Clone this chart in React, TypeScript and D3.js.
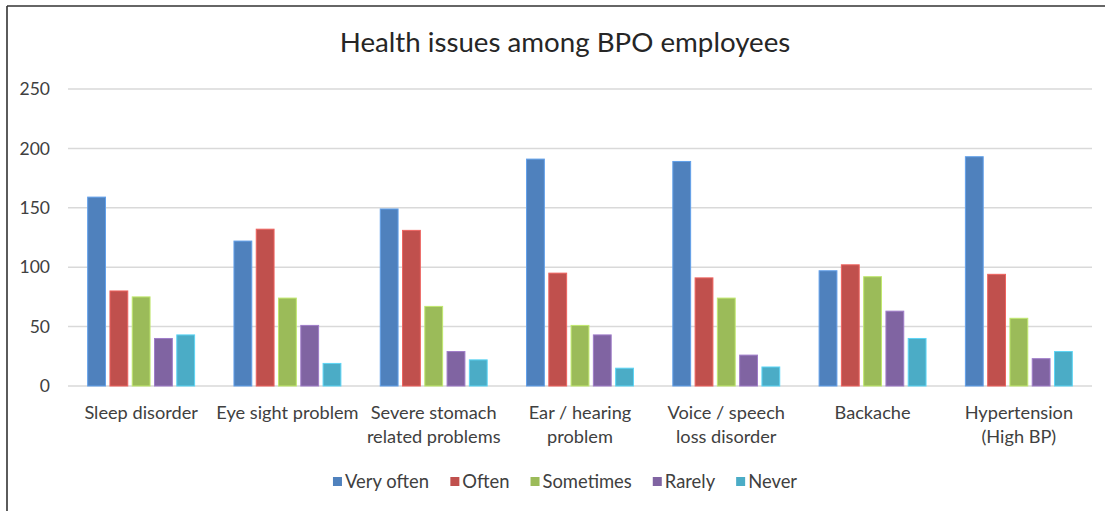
import React, { useMemo } from "react";
import * as d3 from "d3";

// Survey responses: how often each health issue is reported
const categories = [
  "Sleep disorder",
  "Eye sight problem",
  "Severe stomach related problems",
  "Ear / hearing problem",
  "Voice / speech loss disorder",
  "Backache",
  "Hypertension (High BP)",
];

// Wrapped tick label lines, one entry per category
const categoryLines = [
  ["Sleep disorder"],
  ["Eye sight problem"],
  ["Severe stomach", "related problems"],
  ["Ear / hearing", "problem"],
  ["Voice / speech", "loss disorder"],
  ["Backache"],
  ["Hypertension", "(High BP)"],
];

const seriesNames = ["Very often", "Often", "Sometimes", "Rarely", "Never"];

const veryOften = [159, 122, 149, 191, 189, 97, 193];
const often = [80, 132, 131, 95, 91, 102, 94];
const sometimes = [75, 74, 67, 51, 74, 92, 57];
const rarely = [40, 51, 29, 43, 26, 63, 23];
const never = [43, 19, 22, 15, 16, 40, 29];

const yTicks = [0, 50, 100, 150, 200, 250];

const seriesValues = [veryOften, often, sometimes, rarely, never];
const colors = ["#4F81BD", "#C0504D", "#9BBB59", "#8064A2", "#4BACC6"];

const W = 1105;
const H = 511;
const FONT = "Lato, 'Open Sans', sans-serif";

function measure(text: string, size: number): number {
  if (typeof document === "undefined") return text.length * size * 0.5;
  const c = document.createElement("canvas").getContext("2d");
  if (!c) return text.length * size * 0.5;
  c.font = `${size}px Lato`;
  return c.measureText(text).width;
}

export default function App() {
  const plot = { left: 68, right: 1092, top: 89, bottom: 386 };

  const x0 = d3
    .scaleBand<string>()
    .domain(categories)
    .range([plot.left, plot.right])
    .paddingInner(0.269)
    .paddingOuter(0.1345);

  const x1 = d3
    .scaleBand<string>()
    .domain(seriesNames)
    .range([0, x0.bandwidth()])
    .paddingInner(0.2);

  const y = d3.scaleLinear().domain([0, 250]).range([plot.bottom, plot.top]);

  const labelFont = 18.2;
  const legendFont = 18.4;
  const legend = useMemo(() => {
    const sq = 9;
    const textGap = 3;
    const itemGap = 21;
    const widths = seriesNames.map((s) => measure(s, legendFont));
    const total =
      widths.reduce((a, b) => a + b, 0) +
      seriesNames.length * (sq + textGap) +
      (seriesNames.length - 1) * itemGap;
    let cx = 565 - total / 2;
    return seriesNames.map((s, i) => {
      const item = { name: s, x: cx, color: colors[i] };
      cx += sq + textGap + widths[i] + itemGap;
      return item;
    });
  }, []);

  return (
    <svg
      width={W}
      height={H}
      style={{ position: "absolute", left: 0, top: 0, background: "#fff" }}
      fontFamily={FONT}
    >
      <rect x={0} y={0} width={W} height={H} fill="#fff" />
      {/* frame */}
      <line x1={7} x2={W} y1={6} y2={6} stroke="#333" strokeWidth={1.6} />
      <line x1={7} x2={7} y1={6} y2={H} stroke="#333" strokeWidth={1.6} />

      <text x={565} y={52} textAnchor="middle" fontSize={27.7} fill="#262626">
        Health issues among BPO employees
      </text>

      {/* gridlines and y labels */}
      {yTicks.map((t) => (
        <g key={t}>
          <line
            x1={plot.left}
            x2={plot.right}
            y1={y(t)}
            y2={y(t)}
            stroke="#D9D9D9"
            strokeWidth={1.5}
          />
          <text
            x={50}
            y={y(t)}
            dy="0.35em"
            textAnchor="end"
            fontSize={17.5}
            fill="#404040"
          >
            {t}
          </text>
        </g>
      ))}

      {/* bars */}
      {categories.map((c, ci) => (
        <g key={c} transform={`translate(${x0(c)},0)`}>
          {seriesNames.map((s, si) => {
            const v = seriesValues[si][ci];
            return (
              <rect
                key={s}
                x={x1(s)}
                y={y(v)}
                width={x1.bandwidth()}
                height={y(0) - y(v)}
                fill={colors[si]}
                stroke={d3.color(colors[si])!.brighter(0.6).formatHex()}
                strokeWidth={1}
              />
            );
          })}
        </g>
      ))}

      {/* category labels */}
      {categories.map((c, ci) => (
        <text
          key={c}
          x={(x0(c) as number) + x0.bandwidth() / 2}
          y={419}
          textAnchor="middle"
          fontSize={labelFont}
          fill="#404040"
        >
          {categoryLines[ci].map((line, li) => (
            <tspan
              key={li}
              x={(x0(c) as number) + x0.bandwidth() / 2}
              dy={li === 0 ? 0 : 24}
            >
              {line}
            </tspan>
          ))}
        </text>
      ))}

      {/* legend */}
      {legend.map((item) => (
        <g key={item.name}>
          <rect x={item.x} y={477} width={9} height={9} fill={item.color} />
          <text x={item.x + 12} y={488} fontSize={legendFont} fill="#404040">
            {item.name}
          </text>
        </g>
      ))}
    </svg>
  );
}
